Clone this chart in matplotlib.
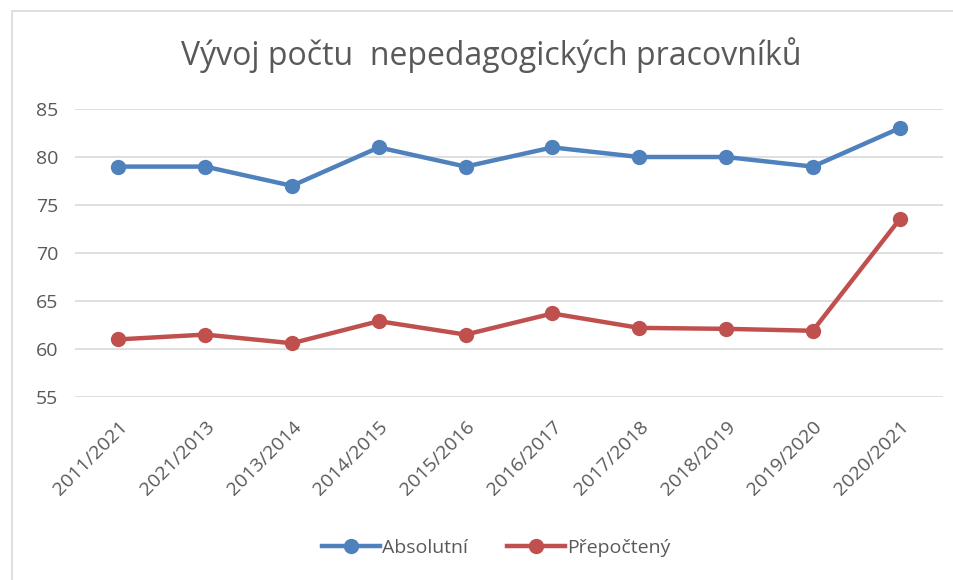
import matplotlib.pyplot as plt
from matplotlib.patches import Rectangle

plt.rcParams['font.family'] = ['Open Sans', 'DejaVu Sans']

# data
roky = ["2011/2021", "2021/2013", "2013/2014", "2014/2015", "2015/2016",
        "2016/2017", "2017/2018", "2018/2019", "2019/2020", "2020/2021"]
absolutni = [79, 79, 77, 81, 79, 81, 80, 80, 79, 83]
prepocteny = [61.0, 61.5, 60.6, 62.9, 61.5, 63.7, 62.2, 62.1, 61.9, 73.5]

modra = "#4f81bd"
cervena = "#c0504d"
seda = "#595959"

fig = plt.figure(figsize=(9.54, 5.8), dpi=100)
fig.patches.append(Rectangle((12 / 954, -0.1), 1.0, (580 - 11) / 580 + 0.1,
                             transform=fig.transFigure, fill=False,
                             edgecolor="#d9d9d9", linewidth=1.2))

ax = fig.add_axes([75 / 954, 1 - 397 / 580, 868 / 954, 288 / 580])
x = range(len(roky))
ax.plot(x, absolutni, color=modra, lw=3.2, marker="o", ms=10, label="Absolutní")
ax.plot(x, prepocteny, color=cervena, lw=3.2, marker="o", ms=10, label="Přepočtený")

ax.set_xlim(-0.5, len(roky) - 0.5)
ax.set_ylim(55, 85)
ax.set_yticks(range(55, 86, 5))
ax.set_xticks(list(x))
ax.set_xticklabels(roky, rotation=45, ha="right", rotation_mode="anchor")
ax.tick_params(axis="both", length=0, labelsize=14, colors=seda, pad=12)
ax.tick_params(axis="x", pad=15)
ax.grid(axis="y", color="#d9d9d9", lw=1.2)
ax.set_axisbelow(True)
for s in ax.spines.values():
    s.set_visible(False)

fig.text(0.515, 1 - 55 / 580, "Vývoj počtu  nepedagogických pracovníků",
         ha="center", va="center", fontsize=23, color=seda)

fig.legend(loc="center", bbox_to_anchor=(0.52, 1 - 548 / 580), ncol=2,
           frameon=False, fontsize=14, labelcolor=seda, handlelength=3,
           columnspacing=2, handletextpad=0.1)

fig.savefig("out.png", dpi=100)
